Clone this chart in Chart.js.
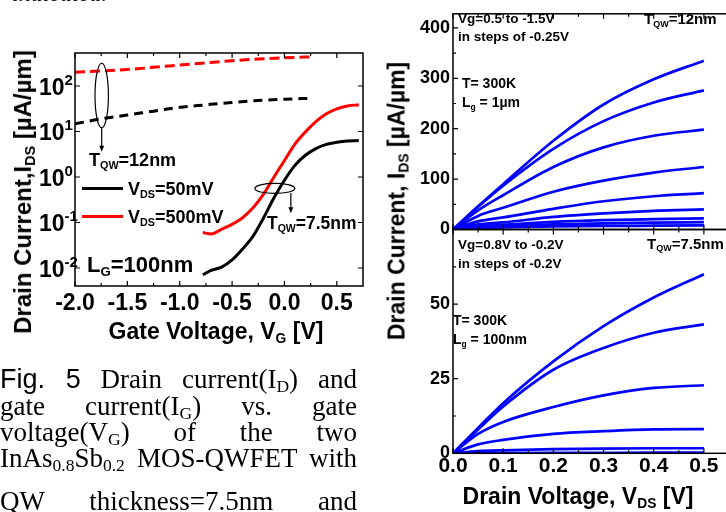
<!DOCTYPE html>
<html>
<head>
<meta charset="utf-8">
<script src="https://cdn.jsdelivr.net/npm/chart.js@4.4.1/dist/chart.umd.min.js"></script>
<style>
html, body { margin: 0; padding: 0; width: 726px; height: 512px; overflow: hidden; background: #fff; }
canvas { position: absolute; left: 0; top: 0; }
.t { position: absolute; font-family: 'Liberation Sans', Arial, sans-serif; font-weight: bold; line-height: 1; white-space: nowrap; color: #000; }
.t sub { font-size: 0.6em; position: relative; top: 0.3em; vertical-align: baseline; line-height: 0; }
.rot { transform: translate(-50%, -50%) rotate(-90deg); }
.ctr { transform: translateX(-50%); }
.cap { position: absolute; left: 0; width: 357px; font-family: 'Liberation Serif', 'Times New Roman', serif; font-size: 27px; line-height: 1; text-align: justify; text-align-last: justify; color: #000; }
.cap sub { font-size: 0.65em; position: relative; top: 0.2em; vertical-align: baseline; line-height: 0; }
.fig { font-family: 'Liberation Sans Narrow', 'Liberation Sans', Arial, sans-serif; }
</style>
</head>
<body>
<canvas id="leftChart" width="726" height="512"></canvas>
<canvas id="topChart" width="760" height="512"></canvas>
<canvas id="bottomChart" width="760" height="512"></canvas>

<!-- clipped line of text from the page above -->
<div class="cap" style="left:12px; top:-19.5px; width:auto; font-style:italic; font-size:24px; text-align:left; text-align-last:left;">indicated.</div>

<!-- left panel labels -->
<div class="t rot" style="left:23px; top:192px; font-size:24px;">Drain Current,I<sub>DS</sub> [&micro;A/&micro;m]</div>
<div class="t ctr" style="left:216px; top:320px; font-size:23px;">Gate Voltage, V<sub>G</sub> [V]</div>
<div class="t" style="left:89px; top:150.7px; font-size:18px;">T<sub>QW</sub>=12nm</div>
<div class="t" style="left:128px; top:179.7px; font-size:18px;">V<sub>DS</sub>=50mV</div>
<div class="t" style="left:128px; top:207.7px; font-size:18px;">V<sub>DS</sub>=500mV</div>
<div class="t" style="left:267px; top:215px; font-size:17.5px;">T<sub>QW</sub>=7.5nm</div>
<div class="t" style="left:87px; top:254px; font-size:22px;">L<sub>G</sub>=100nm</div>

<!-- caption -->
<div class="cap" style="top:366px;"><span class="fig">Fig. 5</span> Drain current(I<sub>D</sub>) and</div>
<div class="cap" style="top:393px;">gate current(I<sub>G</sub>) vs. gate</div>
<div class="cap" style="top:419px;">voltage(V<sub>G</sub>) of the two</div>
<div class="cap" style="top:445px;">InAs<sub>0.8</sub>Sb<sub>0.2</sub> MOS-QWFET with</div>
<div class="cap" style="top:488px;">QW thickness=7.5nm and</div>

<!-- right panels labels -->
<div class="t rot" style="left:397px; top:201px; font-size:23px;">Drain Current, I<sub>DS</sub> [&micro;A/&micro;m]</div>
<div class="t ctr" style="left:578px; top:485px; font-size:23px;">Drain Voltage, V<sub>DS</sub> [V]</div>
<div class="t" style="left:458px; top:11.5px; font-size:13.5px;">Vg=0.5 to -1.5V</div>
<div class="t" style="left:458px; top:30px; font-size:13.5px;">in steps of -0.25V</div>
<div class="t" style="left:644px; top:11px; font-size:15px;">T<sub>QW</sub>=12nm</div>
<div class="t" style="left:462px; top:75.5px; font-size:14px;">T= 300K</div>
<div class="t" style="left:462px; top:95px; font-size:14px;">L<sub>g</sub> = 1&micro;m</div>
<div class="t" style="left:458px; top:238.3px; font-size:13.5px;">Vg=0.8V to -0.2V</div>
<div class="t" style="left:458px; top:256.6px; font-size:13.5px;">in steps of -0.2V</div>
<div class="t" style="left:647px; top:235.5px; font-size:15px;">T<sub>QW</sub>=7.5nm</div>
<div class="t" style="left:453px; top:313px; font-size:14px;">T= 300K</div>
<div class="t" style="left:453px; top:332px; font-size:14px;">L<sub>g</sub> = 100nm</div>

<script>
// ---- left panel: transfer curves, log scale ----
const vgLong = [-2.0, -1.75, -1.5, -1.25, -1.0, -0.75, -0.5, -0.25, 0.0, 0.27];
const id12nm50mV = [14.7, 19, 23, 28, 34, 38.5, 43.5, 48, 51, 54];
const id12nm500mV = [200, 215, 230, 258, 288, 322, 359, 390, 417, 437];

const vgShort = [-0.78, -0.7, -0.6, -0.5, -0.4, -0.3, -0.2, -0.1, 0.0, 0.1, 0.2, 0.3, 0.4, 0.5, 0.6, 0.71];
const id75nm50mV = [0.0071, 0.0089, 0.0104, 0.015, 0.026, 0.05, 0.126, 0.35, 0.85, 1.8, 3.0, 4.2, 5.2, 5.8, 6.2, 6.3];
const id75nm500mV = [0.060, 0.056, 0.071, 0.091, 0.127, 0.21, 0.42, 1.0, 2.3, 5.3, 9.8, 16.5, 24.5, 31.5, 36.5, 38.5];

const vgTicks = [-2.0, -1.5, -1.0, -0.5, 0.0, 0.5];
const vgMinorTicks = [-1.75, -1.25, -0.75, -0.25, 0.25];
const logTicks = [0.01, 0.1, 1, 10, 100];

// ---- right panels: output curves ----
const vds = [0, 0.05, 0.1, 0.2, 0.3, 0.4, 0.5];
// T_QW = 12nm, Vg = 0.5 ... -1.5 V
const ids12_a = [0, 46, 90, 176, 248, 298, 335];
const ids12_b = [0, 45, 87, 160, 215, 252, 276];
const ids12_c = [0, 38, 68, 124, 163, 186, 198];
const ids12_d = [0, 27, 43, 75, 97, 113, 124];
const ids12_e = [0, 16, 24, 41, 56, 66, 72];
const ids12_f = [0, 10, 14, 25, 32, 37, 40];
const ids12_g = [0, 6, 9, 15, 18.5, 20.5, 22];
const ids12_h = [0, 4, 6, 10, 12, 13.5, 14.5];
const ids12_i = [0, 2.5, 4, 6, 7, 7.5, 8];
// T_QW = 7.5nm, Vg = 0.8 ... -0.2 V
const ids75_a = [0, 8.5, 16.8, 30.8, 42.6, 52.2, 60.0];
const ids75_b = [0, 8, 15.7, 28, 35.3, 40.4, 43.2];
const ids75_c = [0, 6.5, 10.5, 15.5, 19.4, 21.9, 22.8];
const ids75_d = [0, 3, 4.5, 6.5, 7.4, 8.0, 8.1];
const ids75_e = [0, 0.7, 1.0, 1.4, 1.6, 1.7, 1.7];
const ids75_f = [0, 0.07, 0.1, 0.15, 0.18, 0.2, 0.2];

const vdsTicks = [0, 0.1, 0.2, 0.3, 0.4, 0.5];
const vdsMinorTicks = [0.05, 0.15, 0.25, 0.35, 0.45, 0.55];
const id12Ticks = [0, 100, 200, 300, 400];
const id12MinorTicks = [50, 150, 250, 350];
const id75Ticks = [0, 25, 50];
const id75MinorTicks = [12.5, 37.5, 62.5];

const pts = (xs, ys) => xs.map((x, i) => ({ x: x, y: ys[i] }));

Chart.defaults.font.family = "'Liberation Sans', Arial, sans-serif";
Chart.defaults.font.weight = 'bold';
Chart.defaults.color = '#000';

// box around the plot area with inward tick marks on all sides
const framePlugin = {
    id: 'frame',
    afterDatasetsDraw(chart, args, o) {
        const ctx = chart.ctx, a = chart.chartArea;
        const xs = chart.scales.x, ys = chart.scales.y;
        ctx.save();
        ctx.strokeStyle = '#000';
        ctx.lineWidth = o.width;
        ctx.strokeRect(a.left, a.top, a.right - a.left, a.bottom - a.top);
        ctx.lineWidth = 1.2;
        ctx.beginPath();
        const xt = (vals, len) => vals.forEach(v => {
            const px = xs.getPixelForValue(v);
            ctx.moveTo(px, a.bottom); ctx.lineTo(px, a.bottom - len);
            ctx.moveTo(px, a.top); ctx.lineTo(px, a.top + len);
        });
        const yt = (vals, len) => vals.forEach(v => {
            const py = ys.getPixelForValue(v);
            ctx.moveTo(a.left, py); ctx.lineTo(a.left + len, py);
            ctx.moveTo(a.right, py); ctx.lineTo(a.right - len, py);
        });
        xt(o.xMajor, 5); xt(o.xMinor, 3);
        yt(o.yMajor, 5); yt(o.yMinor, 3);
        ctx.stroke();
        ctx.restore();
    }
};

function arrowDown(ctx, x, y1, y2) {
    ctx.beginPath();
    ctx.moveTo(x, y1); ctx.lineTo(x, y2 - 5);
    ctx.stroke();
    ctx.beginPath();
    ctx.moveTo(x - 2.5, y2 - 6); ctx.lineTo(x + 2.5, y2 - 6); ctx.lineTo(x, y2);
    ctx.closePath();
    ctx.fill();
}

// decade labels, legend swatches, ellipses and arrows of the left panel
const leftExtras = {
    id: 'leftExtras',
    afterDraw(chart) {
        const ctx = chart.ctx, a = chart.chartArea;
        const xs = chart.scales.x, ys = chart.scales.y;
        ctx.save();
        ctx.fillStyle = '#000';
        ctx.strokeStyle = '#000';
        ctx.textAlign = 'left';
        ctx.textBaseline = 'alphabetic';
        logTicks.forEach(v => {
            const py = ys.getPixelForValue(v);
            ctx.font = "bold 23px 'Liberation Sans'";
            ctx.fillText('10', 39, py + 9);
            ctx.font = "bold 15px 'Liberation Sans'";
            ctx.fillText(String(Math.round(Math.log10(v))), 64.5, py - 1);
        });
        // legend swatches
        ctx.lineWidth = 3;
        ctx.beginPath();
        ctx.moveTo(a.left + 7, a.top + 135.5); ctx.lineTo(a.left + 48, a.top + 135.5);
        ctx.stroke();
        ctx.strokeStyle = '#ff0000';
        ctx.beginPath();
        ctx.moveTo(a.left + 7, a.top + 163.5); ctx.lineTo(a.left + 48, a.top + 163.5);
        ctx.stroke();
        // T_QW = 12nm group marker
        ctx.strokeStyle = '#000';
        ctx.lineWidth = 1.2;
        const ex1 = xs.getPixelForValue(-1.745);
        const eyTop = ys.getPixelForValue(316), eyBot = ys.getPixelForValue(12);
        ctx.beginPath();
        ctx.ellipse(ex1, (eyTop + eyBot) / 2, 6.7, (eyBot - eyTop) / 2, 0, 0, 2 * Math.PI);
        ctx.stroke();
        arrowDown(ctx, ex1, eyBot, ys.getPixelForValue(3.6));
        // T_QW = 7.5nm group marker
        const ex2 = xs.getPixelForValue(-0.092), ey2 = ys.getPixelForValue(0.56);
        ctx.beginPath();
        ctx.ellipse(ex2, ey2, 20, 5, 0, 0, 2 * Math.PI);
        ctx.stroke();
        const ax2 = xs.getPixelForValue(0.061);
        arrowDown(ctx, ax2, ey2 + 4.5, ys.getPixelForValue(0.16));
        ctx.restore();
    }
};

const noGrid = { display: false, drawTicks: false };
const noBorder = { display: false };
const lineEl = { point: { radius: 0 }, line: { borderWidth: 3, cubicInterpolationMode: 'monotone' } };

// Left chart
new Chart(document.getElementById('leftChart'), {
    type: 'line',
    data: {
        datasets: [
            { data: pts(vgLong, id12nm500mV), borderColor: '#ff0000', borderDash: [10, 5] },
            { data: pts(vgLong, id12nm50mV), borderColor: '#000000', borderDash: [9, 6] },
            { data: pts(vgShort, id75nm500mV), borderColor: '#ff0000' },
            { data: pts(vgShort, id75nm50mV), borderColor: '#000000' }
        ]
    },
    options: {
        responsive: false,
        animation: false,
        layout: { padding: { left: 0, top: 53, right: 363, bottom: 0 } },
        elements: lineEl,
        plugins: {
            legend: { display: false },
            tooltip: { enabled: false },
            frame: { width: 1.5, xMajor: vgTicks, xMinor: vgMinorTicks, yMajor: logTicks, yMinor: [] }
        },
        scales: {
            x: {
                type: 'linear', min: -2.0, max: 0.75,
                afterFit: s => { s.height = 226; },
                afterBuildTicks: s => { s.ticks = vgTicks.map(v => ({ value: v })); },
                grid: noGrid, border: noBorder,
                ticks: { padding: 4, font: { size: 23 }, maxRotation: 0, autoSkip: false, callback: v => v.toFixed(1) }
            },
            y: {
                type: 'logarithmic', min: 0.00402, max: 531,
                afterFit: s => { s.width = 75; },
                afterBuildTicks: s => { s.ticks = logTicks.map(v => ({ value: v })); },
                grid: noGrid, border: noBorder,
                ticks: { display: false }
            }
        }
    },
    plugins: [framePlugin, leftExtras]
});

const blue = '#0000ff';
const blueSet = ys => ({ data: pts(vds, ys), borderColor: blue, borderWidth: 2.7 });

// Right top chart (T_QW = 12nm)
new Chart(document.getElementById('topChart'), {
    type: 'line',
    data: {
        datasets: [ids12_a, ids12_b, ids12_c, ids12_d, ids12_e, ids12_f, ids12_g, ids12_h, ids12_i].map(blueSet)
    },
    options: {
        responsive: false,
        animation: false,
        layout: { padding: { left: 0, top: 5, right: 26, bottom: 0 } },
        elements: lineEl,
        plugins: {
            legend: { display: false },
            tooltip: { enabled: false },
            frame: { width: 1.5, xMajor: vdsTicks, xMinor: vdsMinorTicks, yMajor: id12Ticks, yMinor: id12MinorTicks }
        },
        scales: {
            x: {
                type: 'linear', min: 0, max: 0.56,
                afterFit: s => { s.height = 282.5; },
                grid: noGrid, border: noBorder,
                ticks: { display: false }
            },
            y: {
                type: 'linear', min: 0, max: 428,
                afterFit: s => { s.width = 453; },
                afterBuildTicks: s => { s.ticks = id12Ticks.map(v => ({ value: v })); },
                grid: noGrid, border: noBorder,
                ticks: { padding: 3, font: { size: 18 } }
            }
        }
    },
    plugins: [framePlugin]
});

// Right bottom chart (T_QW = 7.5nm)
new Chart(document.getElementById('bottomChart'), {
    type: 'line',
    data: {
        datasets: [ids75_a, ids75_b, ids75_c, ids75_d, ids75_e, ids75_f].map(blueSet)
    },
    options: {
        responsive: false,
        animation: false,
        layout: { padding: { left: 0, top: 229.5, right: 26, bottom: 0 } },
        elements: lineEl,
        plugins: {
            legend: { display: false },
            tooltip: { enabled: false },
            frame: { width: 1.5, xMajor: vdsTicks, xMinor: vdsMinorTicks, yMajor: id75Ticks, yMinor: id75MinorTicks }
        },
        scales: {
            x: {
                type: 'linear', min: 0, max: 0.56,
                afterFit: s => { s.height = 58.7; },
                afterBuildTicks: s => { s.ticks = vdsTicks.map(v => ({ value: v })); },
                grid: noGrid, border: noBorder,
                ticks: { padding: 0, font: { size: 21 }, maxRotation: 0, autoSkip: false, callback: v => v.toFixed(1) }
            },
            y: {
                type: 'linear', min: 0, max: 75,
                afterFit: s => { s.width = 453; },
                afterBuildTicks: s => { s.ticks = id75Ticks.map(v => ({ value: v })); },
                grid: noGrid, border: noBorder,
                ticks: { padding: 3, font: { size: 18 } }
            }
        }
    },
    plugins: [framePlugin]
});
</script>
</body>
</html>
